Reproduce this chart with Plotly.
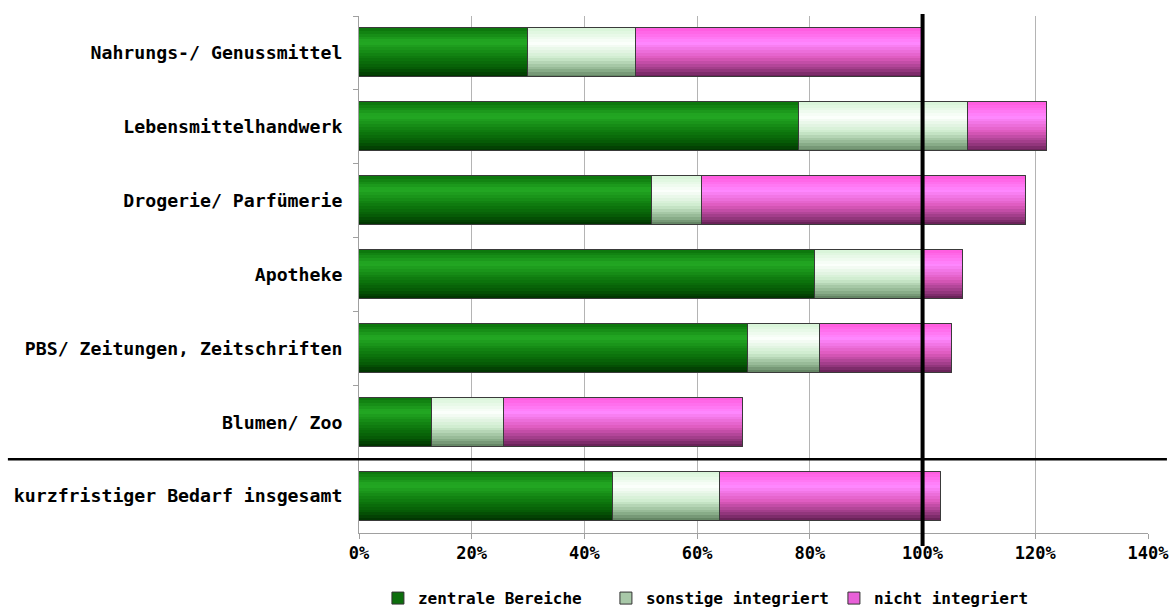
import plotly.graph_objects as go

# Sortimentsgruppen des kurzfristigen Bedarfs (von oben nach unten)
categories = [
    "Nahrungs-/ Genussmittel",
    "Lebensmittelhandwerk",
    "Drogerie/ Parfümerie",
    "Apotheke",
    "PBS/ Zeitungen, Zeitschriften",
    "Blumen/ Zoo",
    "kurzfristiger Bedarf insgesamt",
]

# Anteile in Prozent je Standorttyp
zentrale_bereiche = [30.0, 78.1, 52.0, 81.0, 69.1, 13.0, 45.0]
sonstige_integriert = [19.1, 30.0, 8.9, 19.3, 12.7, 12.8, 19.0]
nicht_integriert = [50.9, 14.0, 57.4, 6.8, 23.4, 42.3, 39.2]

x_ticks = [0, 20, 40, 60, 80, 100, 120, 140]

FONT = "DejaVu Sans Mono, monospace"
BAR_H = 0.665      # bar thickness in category units
N_BANDS = 18       # horizontal bands used to shade each bar

# vertical shading stops (0 = top edge, 1 = bottom edge)
series = [
    ("zentrale Bereiche", zentrale_bereiche, "#0d6e0d",
     [(0.0, (10, 115, 10)), (0.28, (36, 170, 36)), (0.55, (16, 128, 16)),
      (0.8, (6, 92, 6)), (1.0, (0, 48, 0))]),
    ("sonstige integriert", sonstige_integriert, "#a8c8a8",
     [(0.0, (214, 244, 214)), (0.3, (252, 255, 252)), (0.6, (206, 236, 206)),
      (0.85, (140, 176, 140)), (1.0, (92, 124, 92))]),
    ("nicht integriert", nicht_integriert, "#e860d8",
     [(0.0, (255, 90, 222)), (0.3, (255, 136, 255)), (0.6, (222, 90, 190)),
      (0.85, (150, 56, 128)), (1.0, (96, 30, 80))]),
]


def shade(stops, t):
    for (t0, c0), (t1, c1) in zip(stops[:-1], stops[1:]):
        if t <= t1:
            f = (t - t0) / (t1 - t0) if t1 > t0 else 0
            r, g, b = (round(a + (bb - a) * f) for a, bb in zip(c0, c1))
            return f"rgb({r},{g},{b})"
    r, g, b = stops[-1][1]
    return f"rgb({r},{g},{b})"


fig = go.Figure()
base = [0.0] * len(categories)
for name, values, legend_color, stops in series:
    # solid bar carrying the legend entry
    fig.add_trace(go.Bar(
        orientation="h", y=categories, x=values, base=base, name=name,
        width=BAR_H, offset=-BAR_H / 2,
        marker=dict(color=legend_color, line=dict(color="#333333", width=1)),
        hoverinfo="skip",
    ))
    # shaded bands
    step = BAR_H / N_BANDS
    for k in range(N_BANDS):
        t = (k + 0.5) / N_BANDS
        fig.add_trace(go.Bar(
            orientation="h", y=categories, x=values, base=base,
            width=step * (1.15 if k < N_BANDS - 1 else 1.0),
            offset=-BAR_H / 2 + k * step,
            marker=dict(color=shade(stops, t), line=dict(width=0)),
            showlegend=False, hoverinfo="skip",
        ))
    # outline on top
    fig.add_trace(go.Bar(
        orientation="h", y=categories, x=values, base=base,
        width=BAR_H, offset=-BAR_H / 2,
        marker=dict(color="rgba(0,0,0,0)", line=dict(color="#3a3a3a", width=1)),
        showlegend=False, hoverinfo="skip",
    ))
    base = [b + v for b, v in zip(base, values)]

# 100 % reference line
fig.add_shape(type="line", xref="x", yref="paper", x0=100, x1=100,
              y0=-0.025, y1=1.004, line=dict(color="black", width=4),
              layer="above")
# separator above the overall total
fig.add_shape(type="line", xref="paper", yref="y", x0=-0.445, x1=1.024,
              y0=5.5, y1=5.5, line=dict(color="black", width=2.5),
              layer="above")

fig.update_layout(
    width=1174, height=611,
    margin=dict(l=359, r=26, t=16, b=78),
    paper_bgcolor="white", plot_bgcolor="white",
    barmode="overlay", bargap=0,
    font=dict(family=FONT, size=17, color="black"),
    xaxis=dict(
        range=[0, 140], tickvals=x_ticks,
        ticktext=[f"{v}%" for v in x_ticks],
        showgrid=True, gridcolor="#b4b4b4", gridwidth=1,
        showline=True, linecolor="#a0a0a0", linewidth=1,
        ticks="outside", ticklen=5, tickcolor="#a0a0a0",
        tickfont=dict(family=FONT, size=17, color="black", weight="bold"),
        zeroline=False, automargin=False,
    ),
    yaxis=dict(
        autorange="reversed", type="category",
        showgrid=False, showline=True, linecolor="#a0a0a0", linewidth=1,
        ticks="outside", ticklen=5, tickcolor="#a0a0a0", tickson="boundaries",
        tickfont=dict(family=FONT, size=18.2, color="black", weight="bold"),
        ticklabelstandoff=12, automargin=False,
    ),
    legend=dict(
        orientation="h", x=0.024, xanchor="left",
        yref="container", y=0.021, yanchor="middle",
        entrywidth=183, entrywidthmode="pixels", itemwidth=30,
        font=dict(family=FONT, size=16, color="black", weight="bold"),
        bgcolor="rgba(0,0,0,0)",
    ),
    showlegend=True,
)

fig.write_html("out.html")
